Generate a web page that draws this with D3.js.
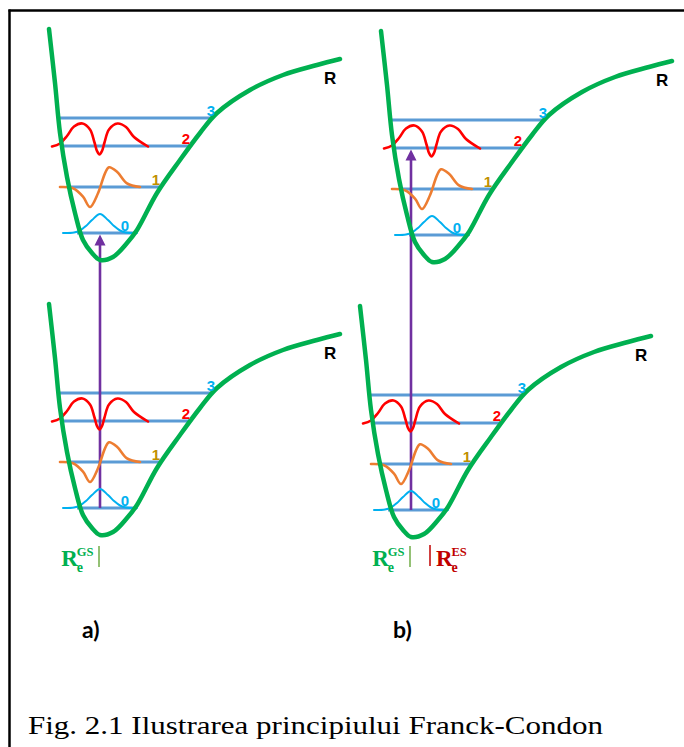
<!DOCTYPE html>
<html><head><meta charset="utf-8">
<script src="https://cdn.jsdelivr.net/npm/d3@7/dist/d3.min.js"></script>
<style>body{margin:0;background:#fff}svg{display:block}</style>
</head><body>
<svg id="c" width="684" height="747"></svg>
<script>
// ---------- data ----------
// Potential energy curve (R relative to equilibrium, energy above minimum)
const potR = [-5.1,-4.5,-4.0,-3.3,-2.5,-1.7,-0.8,0,1.3,2.7,3.7,5.7,8.0,10.0,11.7,15.0,18.3,21.7,24.0];
const potE = [23.1,17.7,12.7,8.3,4.7,2.0,0.7,0,0.3,1.7,3.0,6.7,10.0,12.7,14.7,17.0,18.5,19.5,20.1];
// Vibrational levels
const levelNames = ["0","1","2","3"];
const levelE = [2.7, 7.3, 11.4, 14.2];
const levelLeftR = [-2.3, -3.3, -3.8, -4.1];
const levelRightR = [3.7, 5.9, 8.9, 11.3];
const labelR = [2.5, 5.6, 8.6, 11.1];
// Wavefunctions (R relative to equilibrium, amplitude in energy units)
const wave0R = [-3.7,-2.6,-2.0,-1.4,-0.8,0,0.8,1.4,2.0,2.6,3.7];
const wave0A = [0,0.05,0.25,0.7,1.3,1.9,1.3,0.7,0.25,0.05,0];
const wave1R = [-4.0,-2.7,-1.7,-1.0,-0.2,0.5,0.9,1.7,2.7,4.0];
const wave1A = [0,-0.13,-0.97,-2.0,-0.63,1.37,1.97,1.53,0.37,0];
const wave2R = [-4.8,-4.0,-3.3,-2.6,-1.75,-1.0,-0.55,-0.3,-0.05,0.2,0.45,0.9,1.75,2.6,3.4,4.8];
const wave2A = [-0.05,0.25,1.0,1.95,2.25,1.65,0.35,-0.5,-0.85,-0.5,0.35,1.65,2.25,1.9,0.9,-0.05];
// States
const esOffsetE = 27.5;            // excited state minimum energy
const panelNames = ["a)","b)"];
const esShiftR = [0, 2.1];         // displacement of excited state equilibrium
const targetLevel = [0, 2];        // vertical transition ends on this ES level
const caption = "Fig. 2.1 Ilustrarea principiului Franck-Condon";

// ---------- drawing ----------
const svg = d3.select("#c");
const colors = {
  curve:"#00b050", level:"#5b9bd5", arrow:"#7030a0",
  wave:["#00b0f0","#ed7d31","#ff0000"],
  label:["#00b0f0","#bf9000","#ff0000","#00b0f0"],
  gs:"#00b050", gsLine:"#70ad47", es:"#c00000"
};
const waves = [
  {R:wave0R, A:wave0A, w:2},
  {R:wave1R, A:wave1A, w:2.6},
  {R:wave2R, A:wave2A, w:2.6}
];

// frame
svg.append("line").attr("x1",8.5).attr("x2",684).attr("y1",10.5).attr("y2",10.5)
  .attr("stroke","#000").attr("stroke-width",2.5);
svg.append("line").attr("x1",9.5).attr("x2",9.5).attr("y1",9.5).attr("y2",747)
  .attr("stroke","#000").attr("stroke-width",2.5);

const columns = [
  {x0:100, y0:535},
  {x0:411, y0:537}
];
const serif = "Liberation Serif, Times New Roman, serif";

// R_e label built from separate pieces: R, subscript e, superscript state name
function reLabel(g, xEdge, color, sup, side) {
  const rw = 15.5;                      // approximate width of the big R
  const supW = sup.length * 8.6;        // approximate width of the superscript
  const xR = side === "end" ? xEdge - supW - rw : xEdge;
  const common = t => t.attr("font-family", serif).attr("font-weight","bold").attr("fill", color);
  common(g.append("text").attr("x", xR).attr("y", 566).attr("font-size",23).text("R"));
  common(g.append("text").attr("x", xR + rw).attr("y", 572).attr("font-size",14).text("e"));
  common(g.append("text").attr("x", xR + rw).attr("y", 555.5).attr("font-size",12.5).text(sup));
}

columns.forEach((col, ci) => {
  const x = d3.scaleLinear().domain([0,10]).range([col.x0, col.x0+100]);
  const y = d3.scaleLinear().domain([0,10]).range([col.y0, col.y0-100]);
  const g = svg.append("g");
  const states = [{shift:0, e0:0}, {shift:esShiftR[ci], e0:esOffsetE}];

  // levels
  states.forEach(st => {
    levelE.forEach((e,i) => {
      g.append("line")
        .attr("x1", x(st.shift+levelLeftR[i])).attr("x2", x(st.shift+levelRightR[i]))
        .attr("y1", y(st.e0+e)).attr("y2", y(st.e0+e))
        .attr("stroke", colors.level).attr("stroke-width",3);
    });
  });

  // vertical transition
  const yFrom = y(levelE[0]);
  const yTip = y(esOffsetE + levelE[targetLevel[ci]]) + 1.5;
  const ax = x(0);
  g.append("line").attr("x1",ax).attr("x2",ax).attr("y1",yFrom).attr("y2",yTip+10)
    .attr("stroke",colors.arrow).attr("stroke-width",2.6);
  g.append("path").attr("d",`M${ax},${yTip} L${ax-5.5},${yTip+11} L${ax+5.5},${yTip+11} Z`)
    .attr("fill",colors.arrow);

  // wavefunctions
  states.forEach(st => {
    waves.forEach((wv,i) => {
      const pts = wv.R.map((r,k)=>[x(st.shift+r), y(st.e0+levelE[i]+wv.A[k])]);
      g.append("path").attr("d", d3.line().curve(d3.curveCatmullRom.alpha(0.5))(pts))
        .attr("fill","none").attr("stroke",colors.wave[i]).attr("stroke-width",wv.w)
        .attr("stroke-linecap","round");
    });
  });

  // potential curves
  states.forEach(st => {
    const pts = potR.map((r,k)=>[x(st.shift+r), y(st.e0+potE[k])]);
    g.append("path").attr("d", d3.line().curve(d3.curveCatmullRom.alpha(0.5))(pts))
      .attr("fill","none").attr("stroke",colors.curve).attr("stroke-width",4.5)
      .attr("stroke-linecap","round");
  });

  // level labels and R
  states.forEach(st => {
    levelNames.forEach((n,i) => {
      g.append("text").attr("x", x(st.shift+labelR[i])).attr("y", y(st.e0+levelE[i]+0.2))
        .attr("text-anchor","middle").attr("font-family","Liberation Sans, Arial, sans-serif")
        .attr("font-weight","bold").attr("font-size",15).attr("fill",colors.label[i]).text(n);
    });
    g.append("text").attr("x", x(st.shift+22.4)).attr("y", y(st.e0+17.6))
      .attr("font-family","Liberation Sans, Arial, sans-serif").attr("font-weight","bold")
      .attr("font-size",17).attr("fill","#000").text("R");
  });

  // equilibrium markers
  const gx = x(0);
  g.append("line").attr("x1",gx-1).attr("x2",gx-1).attr("y1",546).attr("y2",567)
    .attr("stroke",colors.gsLine).attr("stroke-width",1.5);
  reLabel(g, gx - 6, colors.gs, "GS", "end");
  if (esShiftR[ci] !== 0) {
    const ex = x(esShiftR[ci]) - 2;
    g.append("line").attr("x1",ex).attr("x2",ex).attr("y1",545).attr("y2",566)
      .attr("stroke",colors.es).attr("stroke-width",1.5);
    reLabel(g, ex + 6, colors.es, "ES", "start");
  }

  // panel name
  svg.append("text").attr("x", x(-1.8)).attr("y", 638)
    .attr("font-family","Lato, Open Sans, sans-serif").attr("font-weight","bold")
    .attr("font-size",23).attr("fill","#000").text(panelNames[ci]);
});

svg.append("text").attr("x",28).attr("y",734)
  .attr("font-family",serif).attr("font-size",26)
  .attr("fill","#000").attr("textLength",575).attr("lengthAdjust","spacingAndGlyphs")
  .text(caption);
</script>
</body></html>
